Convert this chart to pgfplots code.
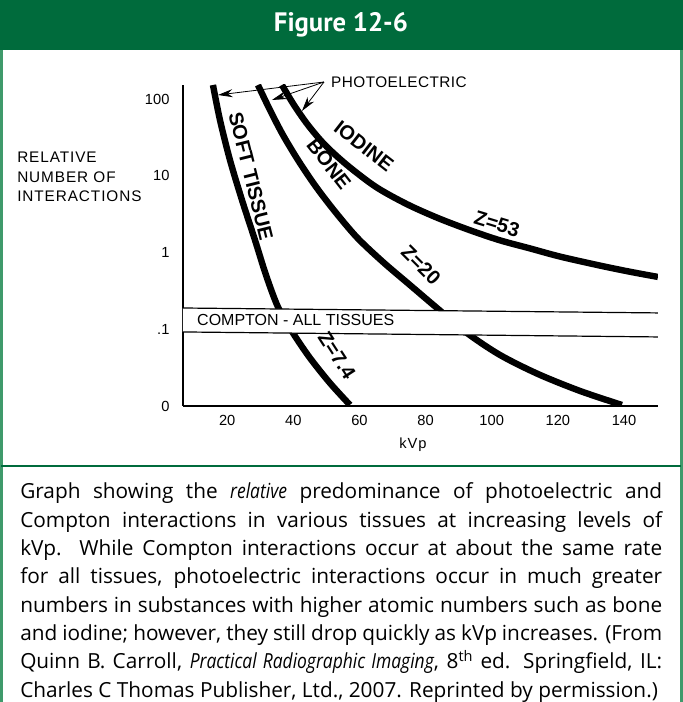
\documentclass[border=0pt]{standalone}
\usepackage{fontspec}
\setmainfont{Open Sans}
\newfontfamily\titlefont{PT Sans}
\newfontfamily\chartfont{Liberation Sans}
\newfontfamily\chartwide[LetterSpace=6]{Liberation Sans}
\usepackage{pgfplots}
\pgfplotsset{compat=1.18}
\usetikzlibrary{arrows.meta}

\definecolor{bargreen}{HTML}{006B3C}
\definecolor{rimgreen}{HTML}{3F9A6B}

% condensed italic, as in the caption
\newcommand\ci[1]{{\itshape\addfontfeature{FakeStretch=0.84}#1}}
% one caption line, stretched to the full text width
\newcommand\capline[2]{\node[anchor=base west, inner sep=0pt, font=\fontsize{15.6}{20}\selectfont] at (20,#1) {\makebox[481.5pt][s]{#2}};}

\begin{document}
\begin{tikzpicture}
% frame, title bar (pixel units, y down)
\begin{scope}[x=0.75pt,y=-0.75pt]
\useasboundingbox (0,0) rectangle (683,702);
\fill[bargreen] (0,0) rectangle (683,50);
\draw[rimgreen, line width=2.2pt] (1.5,50) -- (1.5,702);
\draw[rimgreen, line width=2.2pt] (681.5,50) -- (681.5,702);
\draw[bargreen, line width=1.5pt] (1.5,466) -- (681.5,466);
\node[white, font=\titlefont\bfseries\fontsize{20}{24}\selectfont] at (341,25) {Figure 12-6};
\end{scope}

\begin{axis}[
  at={(137.25pt,-304.5pt)}, anchor=south west,
  scale only axis, width=356.25pt, height=240.75pt,
  xmin=6.62, xmax=150.26,
  ymode=log, ymin=0.01, ymax=152.2,
  axis x line=bottom, axis y line=left,
  axis line style={-, line width=1pt},
  tick style={draw=none},
  xtick={20,40,60,80,100,120,140},
  ytick={0.01,0.1,1,10,100},
  yticklabels={0,.1,1,10,100},
  ticklabel style={font=\chartfont\fontsize{11}{13}\selectfont},
  xticklabel style={yshift=-1.5pt},
  yticklabel style={xshift=-4.5pt},
  /pgf/number format/assume math mode=true,
  clip=true,
]
% photoelectric curves: soft tissue, bone, iodine
\addplot[black, line width=4.8pt, smooth] coordinates {
  (15.69,152.2) (17.81,53.2) (20.83,16.04) (24.46,4.83) (28.39,1.455)
  (31.72,0.509) (35.35,0.195) (39.89,0.0893) (45.03,0.0422) (51.07,0.0199)
  (57.12,0.0103)
};
\addplot[black, line width=4.8pt, smooth] coordinates {
  (29.30,152.2) (32.93,71.9) (36.86,33.96) (41.40,16.04) (46.54,7.50)
  (52.28,3.55) (59.24,1.57) (67.10,0.752) (75.26,0.377) (83.43,0.189)
  (92.50,0.0893) (102.48,0.0462) (113.97,0.0261) (126.67,0.0157) (139.37,0.0103)
};
\addplot[black, line width=4.8pt, smooth] coordinates {
  (36.56,152.2) (40.19,83.5) (44.42,45.8) (49.56,25.2) (56.21,13.81)
  (64.98,7.14) (74.35,4.26) (83.73,2.81) (93.40,1.95) (102.48,1.44)
  (111.55,1.13) (120.62,0.885) (132.72,0.675) (141.79,0.561) (150.26,0.480)
};
% compton band, white over the curves
\addplot[fill=white, draw=none] coordinates {(6.62,0.189) (150.26,0.163) (150.26,0.0793) (6.62,0.0921)} -- cycle;
\addplot[black, line width=0.9pt] coordinates {(6.62,0.189) (150.26,0.163)};
\addplot[black, line width=0.9pt] coordinates {(6.62,0.0921) (150.26,0.0793)};
\end{axis}

% labels (pixel units again)
\begin{scope}[x=0.75pt,y=-0.75pt]
\node[anchor=west, inner sep=0pt, align=left, font=\chartwide\fontsize{11.5}{14.6}\selectfont] at (17,177)
  {RELATIVE\\NUMBER OF\\INTERACTIONS};
\node[font=\chartwide\fontsize{11}{13}\selectfont] at (413,445) {kVp};
\node[anchor=west, inner sep=0pt, font=\chartfont\fontsize{11.5}{13}\selectfont] at (331,82) {\addfontfeature{LetterSpace=3}PHOTOELECTRIC};
\node[anchor=west, inner sep=0pt, font=\chartfont\fontsize{12}{14}\selectfont] at (197,320) {COMPTON - ALL TISSUES};

\draw[line width=0.6pt, -{Stealth[length=11pt,width=6pt]}] (324,82) -- (218,95);
\draw[line width=0.6pt, -{Stealth[length=11pt,width=6pt]}] (324,82) -- (272,100);
\draw[line width=0.6pt, -{Stealth[length=11pt,width=6pt]}] (324,82) -- (302,111);

\begin{scope}[every node/.style={font=\chartfont\bfseries\fontsize{15}{17}\selectfont, inner sep=0pt}]
\node[rotate=-76] at (251,176) {SOFT TISSUE};
\node[rotate=-52] at (329,164) {BONE};
\node[rotate=-38] at (364,146) {IODINE};
\node[rotate=-17] at (497,224) {Z=53};
\node[rotate=-45] at (421,265) {Z=20};
\node[rotate=-57] at (337,355) {Z=7.4};
\end{scope}

% caption
\capline{499}{Graph showing the \ci{relative} predominance of photoelectric and}
\capline{527.3}{Compton interactions in various tissues at increasing levels of}
\capline{555.6}{kVp. While Compton interactions occur at about the same rate}
\capline{583.9}{for all tissues, photoelectric interactions occur in much greater}
\capline{612.2}{numbers in substances with higher atomic numbers such as bone}
\capline{640.5}{and iodine; however, they still drop quickly as kVp increases. (From}
\capline{668.8}{Quinn B. Carroll, \ci{Practical Radiographic Imaging}, 8\textsuperscript{th} ed. Springfield, IL:}
\node[anchor=base west, inner sep=0pt, font=\fontsize{15.6}{20}\selectfont] at (20,697.1)
  {Charles C Thomas Publisher, Ltd., 2007. Reprinted by permission.)};
\end{scope}
\end{tikzpicture}
\end{document}
